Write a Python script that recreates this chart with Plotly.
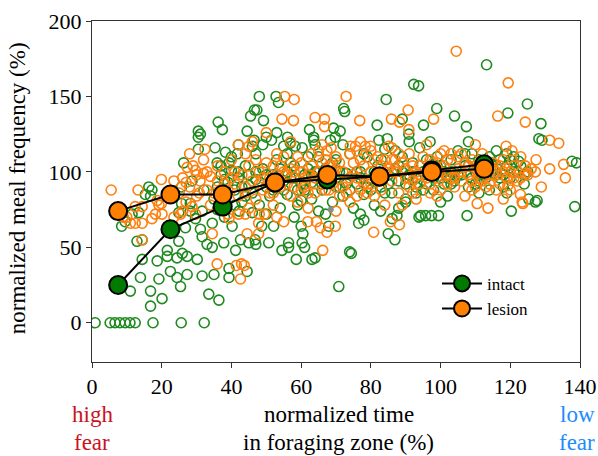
import plotly.graph_objects as go

# bin centres (% time in foraging zone) and group means
bin_x = [7.5, 22.5, 37.5, 52.5, 67.5, 82.5, 97.5, 112.5]
intact_mean = [25, 62, 77, 93, 95, 97, 101, 105]
lesion_mean = [74, 85, 85, 93, 98, 97, 100, 102]

# individual sessions (x, y)
intact_pts = [
    (0.9, 0), (5.2, 0), (6.6, 0), (8.0, 0), (9.5, 0), (10.9, 0), (12.4, 0), (17.5, 0), (25.6, 0), (32.2, 0),
    (11, 21), (13.9, 30), (16.8, 21), (16.8, 11), (19.2, 29), (20.1, 16), (22.5, 34), (24.4, 30), (25.4, 24),
    (27.3, 32), (31.6, 31), (33.5, 19), (36.4, 15), (35, 32), (39.3, 30), (39.3, 36), (44.5, 34), (14.4, 42),
    (18.7, 41), (21.6, 44), (21.6, 48), (24.4, 43), (27.3, 44), (30.2, 42), (26.8, 63), (31.1, 62), (14.4, 55),
    (12.9, 54), (24.9, 54), (25.9, 46), (33, 52), (31.6, 57), (34.5, 50), (37.8, 53), (41.2, 48), (42.6, 55),
    (45, 53), (46.8, 55), (40.2, 64), (34.5, 66), (29.7, 69), (31.6, 74), (28.2, 74), (24.9, 73), (42.2, 74),
    (46, 73), (13.4, 73), (11.5, 72), (8.5, 64), (9.5, 67),
    (50.7, 53), (54.5, 48), (56.4, 53), (56.4, 50), (60.3, 53), (61, 50), (63.1, 42), (74.4, 46), (60.5, 59),
    (60, 64), (52.1, 64), (48.7, 64), (47, 52), (67.9, 64), (85, 59), (86.9, 55), (87.5, 71), (86.1, 69),
    (76.5, 66), (78, 68), (82.8, 74), (93.8, 70), (90, 80), (70.8, 24), (58.6, 42), (64, 43), (73.9, 47),
    (120.3, 74), (138.5, 77), (107.6, 71), (99.4, 71), (97.4, 71), (95.7, 71), (94.3, 71), (127.2, 80),
    (113.2, 171), (124.9, 145), (119.3, 139), (128.8, 132), (128.2, 122), (129.1, 121), (98.9, 142), (104, 137),
    (107.4, 130), (95.1, 131), (93.7, 157), (137.7, 107), (139, 106), (122.4, 107), (125.3, 82), (127.7, 81),
    (92.3, 158), (84.4, 148), (52.8, 150), (53.5, 146), (72.2, 142), (72.5, 140), (47.3, 141), (49.2, 134),
    (69.3, 129), (71.2, 127), (81.8, 131), (89, 135), (56.1, 123), (56.9, 119), (55, 117), (62.4, 128),
    (63.6, 123), (63.6, 121), (50, 123), (51.5, 121), (68.4, 121), (69.8, 123), (82.3, 121), (84.7, 122),
    (90.9, 125), (58.3, 117), (60.3, 116), (48, 150),
    (36.2, 133), (37.4, 128), (30.5, 127), (31.1, 125), (30.5, 123), (46.6, 141), (45.5, 137), (46.5, 121),
    (46, 117), (44.5, 127), (30.5, 115), (35.3, 116), (26.3, 106), (38.3, 113), (41.7, 112), (35.9, 106),
    (39.3, 106), (16.3, 90), (17.2, 88), (25.7, 90), (28.7, 94), (15.3, 85), (16.8, 84), (25.7, 79), (28.2, 79),
    (32.1, 88),
    (35, 82), (36, 90), (37, 98), (38, 85), (39, 93), (40, 101), (41, 88), (42, 96), (43, 80), (44, 104),
    (45, 91), (36, 75), (38, 70), (41, 78), (44, 84), (40, 110), (42, 118), (37, 104),
    (46, 86), (47, 95), (48, 78), (49, 102), (50, 90), (51, 84), (52, 98), (53, 108), (54, 76), (55, 94),
    (47, 112), (50, 72), (52, 88), (54, 102), (49, 118), (53, 126),
    (56, 85), (57, 96), (58, 104), (59, 78), (60, 92), (61, 88), (62, 110), (63, 82), (64, 100), (65, 74),
    (56, 112), (58, 70), (61, 98), (63, 93), (60, 81), (64, 118),
    (66, 88), (67, 102), (68, 94), (69, 80), (70, 108), (71, 90), (72, 84), (73, 99), (74, 112), (75, 76),
    (67, 72), (70, 96), (72, 118), (74, 88),
    (76, 92), (77, 100), (78, 85), (79, 110), (80, 95), (81, 78), (82, 104), (83, 90), (84, 115), (85, 98),
    (77, 72), (80, 88), (83, 108),
    (86, 86), (87, 102), (88, 94), (89, 110), (90, 82), (91, 98), (92, 106), (93, 90), (94, 116), (95, 100),
    (88, 76), (91, 120), (93, 86),
    (96, 92), (97, 104), (98, 88), (99, 110), (100, 96), (101, 100), (102, 84), (103, 108), (104, 94),
    (105, 114), (97, 120), (100, 80), (103, 100), (98, 96),
    (106, 98), (107, 104), (108, 90), (109, 112), (110, 100), (111, 86), (112, 106), (113, 96), (114, 110),
    (115, 102), (108, 120), (111, 94), (114, 88),
    (116, 98), (117, 108), (118, 90), (119, 104), (120, 96), (121, 110), (122, 100), (124, 92), (116, 114),
    (119, 86), (123, 104),
    (38, 95), (43, 90), (47, 100), (51, 92), (55, 88), (58, 96), (62, 102), (66, 92), (69, 106), (73, 92),
    (77, 96), (81, 100), (85, 92), (89, 100), (93, 96), (97, 98), (101, 92), (105, 98), (109, 96), (113, 102),
    (117, 96), (121, 100), (57, 106), (65, 110), (78, 112), (87, 114), (99, 104), (107, 112), (119, 112),
    (125, 100), (45, 98), (53, 92), (61, 92), (71, 100), (84, 86), (95, 88), (103, 92), (111, 108),
    (42, 100), (50, 98), (56, 100), (63, 98), (70, 90), (76, 100), (82, 96), (88, 104), (92, 100), (96, 108),
    (100, 104), (104, 100), (108, 104), (112, 98), (116, 104), (120, 108), (124, 98), (59, 88), (67, 96),
    (79, 90), (90, 92), (102, 96), (110, 92), (118, 98),
]

lesion_pts = [
    (66.2, 48), (80.8, 60), (88.2, 65), (85.6, 67), (69.8, 64), (67.4, 60), (65.5, 63), (64.4, 67), (61.9, 67),
    (55, 67), (53, 70), (49.5, 72), (47.8, 59), (47.8, 66),
    (123.6, 79), (113.6, 76), (110.5, 79),
    (104.5, 180), (119.4, 159), (116.4, 137), (124.3, 133), (131.3, 121), (133.9, 119), (98, 135),
    (127.4, 108), (135.3, 105), (131.3, 102), (127.2, 100), (124.3, 104), (124.3, 99), (135.8, 96),
    (128.9, 90), (122.9, 85), (123.4, 80), (119.3, 91), (118.8, 117), (120.5, 114),
    (72.9, 150), (55.3, 150), (58, 148), (90.7, 141), (54.5, 135), (57.8, 134), (64, 136), (66.7, 135),
    (66.7, 130), (76.8, 134), (85.9, 135), (88.2, 133), (90.9, 128), (68.6, 116), (67.4, 114), (85.1, 117),
    (74.1, 117), (75.6, 117), (78.4, 117), (79.9, 117),
    (32.4, 115), (28, 112), (27.3, 103), (45, 117), (19.9, 95), (23.5, 94), (13.2, 88), (29.7, 101), (32, 99),
    (34, 97), (27, 93), (12.4, 77), (14.4, 77), (18.7, 81), (19.9, 79), (30.8, 86),
    (11, 66), (12.4, 66), (14.4, 66), (14.4, 55), (10, 70), (19.2, 78), (18.2, 72), (20.1, 72), (17.2, 69),
    (25.4, 72), (23.5, 70), (34.5, 59), (35.9, 39), (42.9, 39), (42.6, 29), (44.5, 59), (39.3, 69), (42.1, 72),
    (44, 72), (29.7, 72), (28.7, 77), (41.4, 38), (43.7, 38), (5.5, 88), (9, 70),
    (25, 86), (26, 96), (27, 80), (28, 90), (29, 104), (30, 84), (31, 94), (32, 108), (33, 88), (34, 78),
    (26, 74), (30, 98), (33, 100),
    (35, 86), (36, 94), (37, 80), (38, 100), (39, 88), (40, 108), (41, 92), (42, 84), (43, 98), (44, 112),
    (45, 76), (36, 104), (39, 72), (42, 118), (44, 90), (38, 92),
    (46, 94), (47, 82), (48, 100), (49, 88), (50, 106), (51, 96), (52, 78), (53, 112), (54, 90), (55, 100),
    (46, 120), (48, 72), (51, 86), (54, 104), (50, 126),
    (56, 92), (57, 84), (58, 100), (59, 110), (60, 88), (61, 96), (62, 76), (63, 104), (64, 92), (65, 114),
    (57, 120), (59, 80), (62, 98), (64, 86), (60, 106),
    (66, 96), (67, 88), (68, 104), (69, 92), (70, 110), (71, 84), (72, 100), (73, 94), (74, 80), (75, 106),
    (66, 118), (69, 100), (72, 90), (74, 112), (70, 74),
    (76, 96), (77, 88), (78, 104), (79, 92), (80, 100), (81, 84), (82, 110), (83, 96), (84, 78), (85, 102),
    (76, 114), (79, 86), (82, 94), (84, 108),
    (86, 94), (87, 100), (88, 86), (89, 106), (90, 96), (91, 90), (92, 104), (93, 82), (94, 98), (95, 110),
    (86, 116), (89, 78), (92, 94), (94, 104),
    (96, 100), (97, 92), (98, 106), (99, 96), (100, 88), (101, 104), (102, 98), (103, 112), (104, 90),
    (105, 102), (96, 118), (99, 84), (102, 108), (104, 96),
    (106, 94), (107, 106), (108, 98), (109, 88), (110, 104), (111, 96), (112, 112), (113, 100), (114, 92),
    (115, 106), (107, 84), (110, 118), (113, 90),
    (116, 100), (117, 92), (118, 108), (119, 96), (120, 88), (121, 104), (122, 94), (123, 110), (125, 98),
    (118, 82),
    (37, 88), (41, 100), (45, 104), (49, 96), (53, 98), (57, 102), (61, 90), (65, 100), (68, 96), (71, 106),
    (75, 98), (78, 92), (81, 108), (84, 100), (87, 108), (90, 102), (93, 100), (96, 96), (99, 102), (102, 92),
    (105, 110), (108, 104), (111, 100), (114, 98), (117, 104), (120, 100), (123, 96), (126, 102), (63, 112),
    (73, 86), (83, 88), (91, 112), (101, 114), (109, 94), (47, 108), (55, 110), (67, 108), (77, 120), (97, 86),
    (116, 88),
    (40, 96), (44, 86), (48, 92), (52, 104), (56, 98), (60, 100), (64, 96), (68, 88), (70, 102), (74, 96),
    (77, 108), (80, 92), (83, 104), (86, 100), (88, 112), (91, 96), (94, 92), (97, 108), (100, 100), (103, 96),
    (106, 100), (109, 108), (112, 94), (115, 98), (118, 100), (121, 96), (58, 90), (66, 106), (76, 84),
    (92, 86), (106, 112), (114, 104), (62, 86), (86, 108), (100, 112), (52, 86), (80, 114), (110, 90),
]

outlier_x = [68.5]
outlier_y = [75]

GREEN = "#1f8a1f"
ORANGE = "#ff7f0e"
serif = "Liberation Serif"

fig = go.Figure()

fig.add_trace(go.Scatter(
    x=[p[0] for p in intact_pts], y=[p[1] for p in intact_pts], mode="markers",
    marker=dict(symbol="circle-open", size=10, color=GREEN, line=dict(width=1.6)),
    showlegend=False, hoverinfo="skip"))
fig.add_trace(go.Scatter(
    x=[p[0] for p in lesion_pts], y=[p[1] for p in lesion_pts], mode="markers",
    marker=dict(symbol="circle-open", size=10, color=ORANGE, line=dict(width=1.6)),
    showlegend=False, hoverinfo="skip"))
fig.add_trace(go.Scatter(x=outlier_x, y=outlier_y, mode="markers",
                         marker=dict(size=6, color="#8c8c8c"), showlegend=False))

fig.add_trace(go.Scatter(
    x=bin_x, y=intact_mean, mode="lines+markers", name="intact",
    line=dict(color="black", width=2),
    marker=dict(size=18, color="#007a00", line=dict(color="black", width=2))))
fig.add_trace(go.Scatter(
    x=bin_x, y=lesion_mean, mode="lines+markers", name="lesion",
    line=dict(color="black", width=2),
    marker=dict(size=18, color="#ff8000", line=dict(color="black", width=2))))

axis_common = dict(showline=True, linecolor="#333", linewidth=1, mirror=True, ticks="outside",
                   ticklen=5, tickcolor="#333", showgrid=False, zeroline=False, automargin=False,
                   tickfont=dict(family=serif, size=22, color="black"))

fig.update_xaxes(range=[0, 140], tickvals=[0, 20, 40, 60, 80, 100, 120, 140], **axis_common)
fig.update_yaxes(range=[-26, 200], tickvals=[0, 50, 100, 150, 200], **axis_common)

txt = dict(xref="paper", yref="paper", showarrow=False, xanchor="center", yanchor="middle")
fig.add_annotation(text="normalized meal frequency (%)", x=-0.152, y=0.509, textangle=-90,
                   font=dict(family=serif, size=23, color="black"), **txt)
fig.add_annotation(text="normalized time", x=0.506, y=-0.155,
                   font=dict(family=serif, size=23, color="black"), **txt)
fig.add_annotation(text="in foraging zone (%)", x=0.506, y=-0.235,
                   font=dict(family=serif, size=23, color="black"), **txt)
fig.add_annotation(text="high", x=0.0, y=-0.155, font=dict(family=serif, size=23, color="#c8141e"), **txt)
fig.add_annotation(text="fear", x=0.0, y=-0.235, font=dict(family=serif, size=23, color="#c8141e"), **txt)
fig.add_annotation(text="low", x=0.994, y=-0.155, font=dict(family=serif, size=23, color="#1e8cff"), **txt)
fig.add_annotation(text="fear", x=0.994, y=-0.235, font=dict(family=serif, size=23, color="#1e8cff"), **txt)

fig.update_layout(
    width=598, height=456,
    margin=dict(l=92, r=18, t=21, b=94),
    paper_bgcolor="white", plot_bgcolor="white",
    legend=dict(x=0.707, y=0.282, xanchor="left", yanchor="top", bgcolor="rgba(0,0,0,0)",
                font=dict(family=serif, size=17, color="black"), tracegroupgap=0, itemwidth=40),
)

# drop the default 8px body margin so the figure fills the window exactly
fig.write_html("out.html", config={"displayModeBar": False},
               post_script="document.body.style.margin='0';")
